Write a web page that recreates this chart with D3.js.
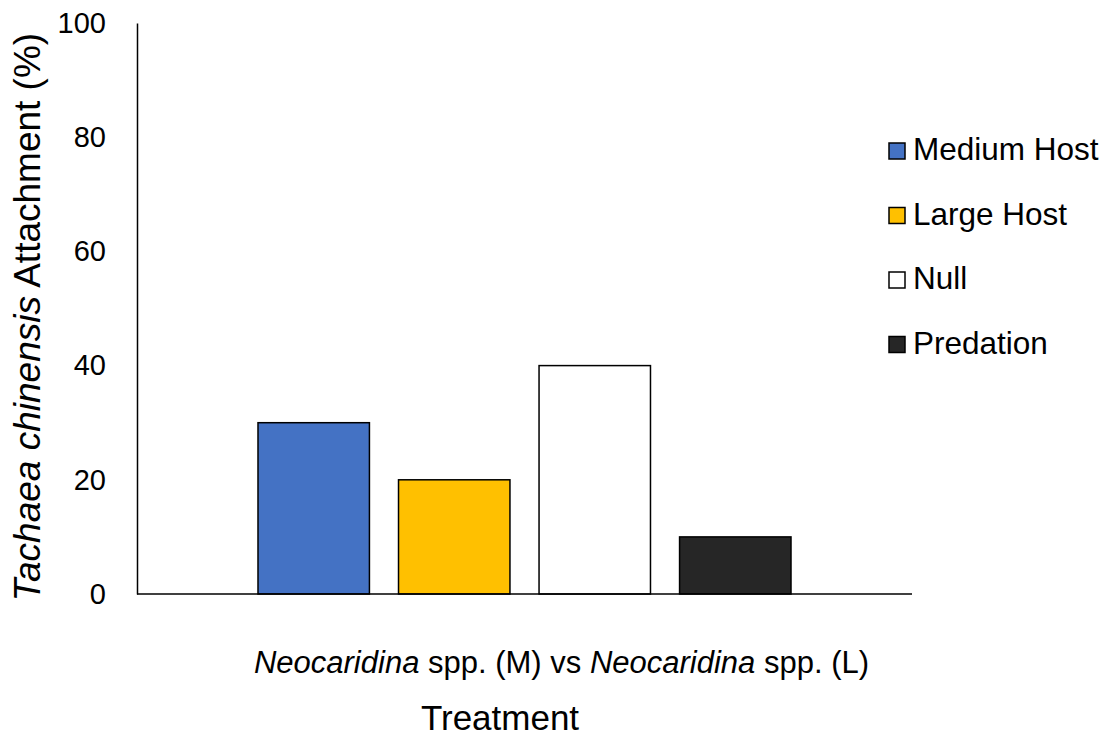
<!DOCTYPE html>
<html>
<head>
<meta charset="utf-8">
<script src="https://cdn.jsdelivr.net/npm/d3@7"></script>
<style>
  html, body { margin: 0; padding: 0; background: #fff; overflow: hidden; }
  svg { display: block; }
  svg text { font-family: "Liberation Sans", Arial, sans-serif; fill: #000; }
</style>
</head>
<body>
<div id="chart"></div>
<script>
// data
const categories = ["Neocaridina spp. (M) vs Neocaridina spp. (L)"];
const seriesNames = ["Medium Host", "Large Host", "Null", "Predation"];
const seriesValues = [30, 20, 40, 10];
const seriesColors = ["#4472C4", "#FFC000", "#FFFFFF", "#262626"];
const yTicks = [0, 20, 40, 60, 80, 100];

const width = 1112, height = 738;
const margin = { top: 23, right: 200, bottom: 144, left: 137 };
const innerWidth = width - margin.left - margin.right;
const innerHeight = height - margin.top - margin.bottom;

const svg = d3.select("#chart").append("svg")
    .attr("width", width)
    .attr("height", height);

const g = svg.append("g").attr("transform", `translate(${margin.left},${margin.top})`);

const x0 = d3.scaleBand().domain(categories).range([0, innerWidth]).paddingInner(0).paddingOuter(0.227);
const x1 = d3.scaleBand().domain(seriesNames).range([0, x0.bandwidth()]).paddingInner(0.207).paddingOuter(0);
const y = d3.scaleLinear().domain([0, 100]).range([innerHeight, 0]);

// y axis (no tick marks, labels only)
const yAxis = g.append("g")
    .call(d3.axisLeft(y).tickValues(yTicks).tickSize(0).tickPadding(31));
yAxis.select(".domain").attr("stroke", "#000").attr("stroke-width", 1.5);
yAxis.selectAll("text").style("font-size", "29px").attr("font-family", null);

// bars
const rows = seriesNames.map((s, i) => ({ cat: categories[0], name: s, value: seriesValues[i], color: seriesColors[i] }));
g.selectAll(".bar")
    .data(rows)
    .enter().append("rect")
    .attr("class", "bar")
    .attr("x", d => x0(d.cat) + x1(d.name))
    .attr("y", d => y(d.value))
    .attr("width", x1.bandwidth())
    .attr("height", d => innerHeight - y(d.value))
    .attr("fill", d => d.color)
    .attr("stroke", "#000")
    .attr("stroke-width", 1.5);

// x axis line
g.append("line")
    .attr("x1", 0).attr("x2", innerWidth)
    .attr("y1", innerHeight).attr("y2", innerHeight)
    .attr("stroke", "#000").attr("stroke-width", 1.5);

// category label, genus in italics
const cx = x0(categories[0]) + x0.bandwidth() / 2;
const catLabel = g.append("text")
    .attr("x", cx + 37)
    .attr("y", innerHeight + 79)
    .attr("text-anchor", "middle")
    .style("font-size", "31px");
catLabel.append("tspan").style("font-style", "italic").text("Neocaridina");
catLabel.append("tspan").text(" spp. (M) vs ");
catLabel.append("tspan").style("font-style", "italic").text("Neocaridina");
catLabel.append("tspan").text(" spp. (L)");

// x title
svg.append("text")
    .attr("x", 500)
    .attr("y", 730)
    .attr("text-anchor", "middle")
    .style("font-size", "35px")
    .text("Treatment");

// y title
const yTitle = svg.append("text")
    .attr("transform", "translate(40,317) rotate(-90)")
    .attr("text-anchor", "middle")
    .style("font-size", "37px");
yTitle.append("tspan").style("font-style", "italic").text("Tachaea chinensis");
yTitle.append("tspan").text(" Attachment (%)");

// legend
const legend = svg.append("g").attr("transform", "translate(889,0)");
const items = legend.selectAll(".legend-item")
    .data(seriesNames)
    .enter().append("g")
    .attr("class", "legend-item")
    .attr("transform", (d, i) => `translate(0,${151 + i * 64.5})`);
items.append("rect")
    .attr("x", 0).attr("y", -8)
    .attr("width", 16).attr("height", 16)
    .attr("fill", (d, i) => seriesColors[i])
    .attr("stroke", "#000").attr("stroke-width", 1.5);
items.append("text")
    .attr("x", 24)
    .attr("y", 9)
    .style("font-size", "31.5px")
    .text(d => d);
</script>
</body>
</html>
